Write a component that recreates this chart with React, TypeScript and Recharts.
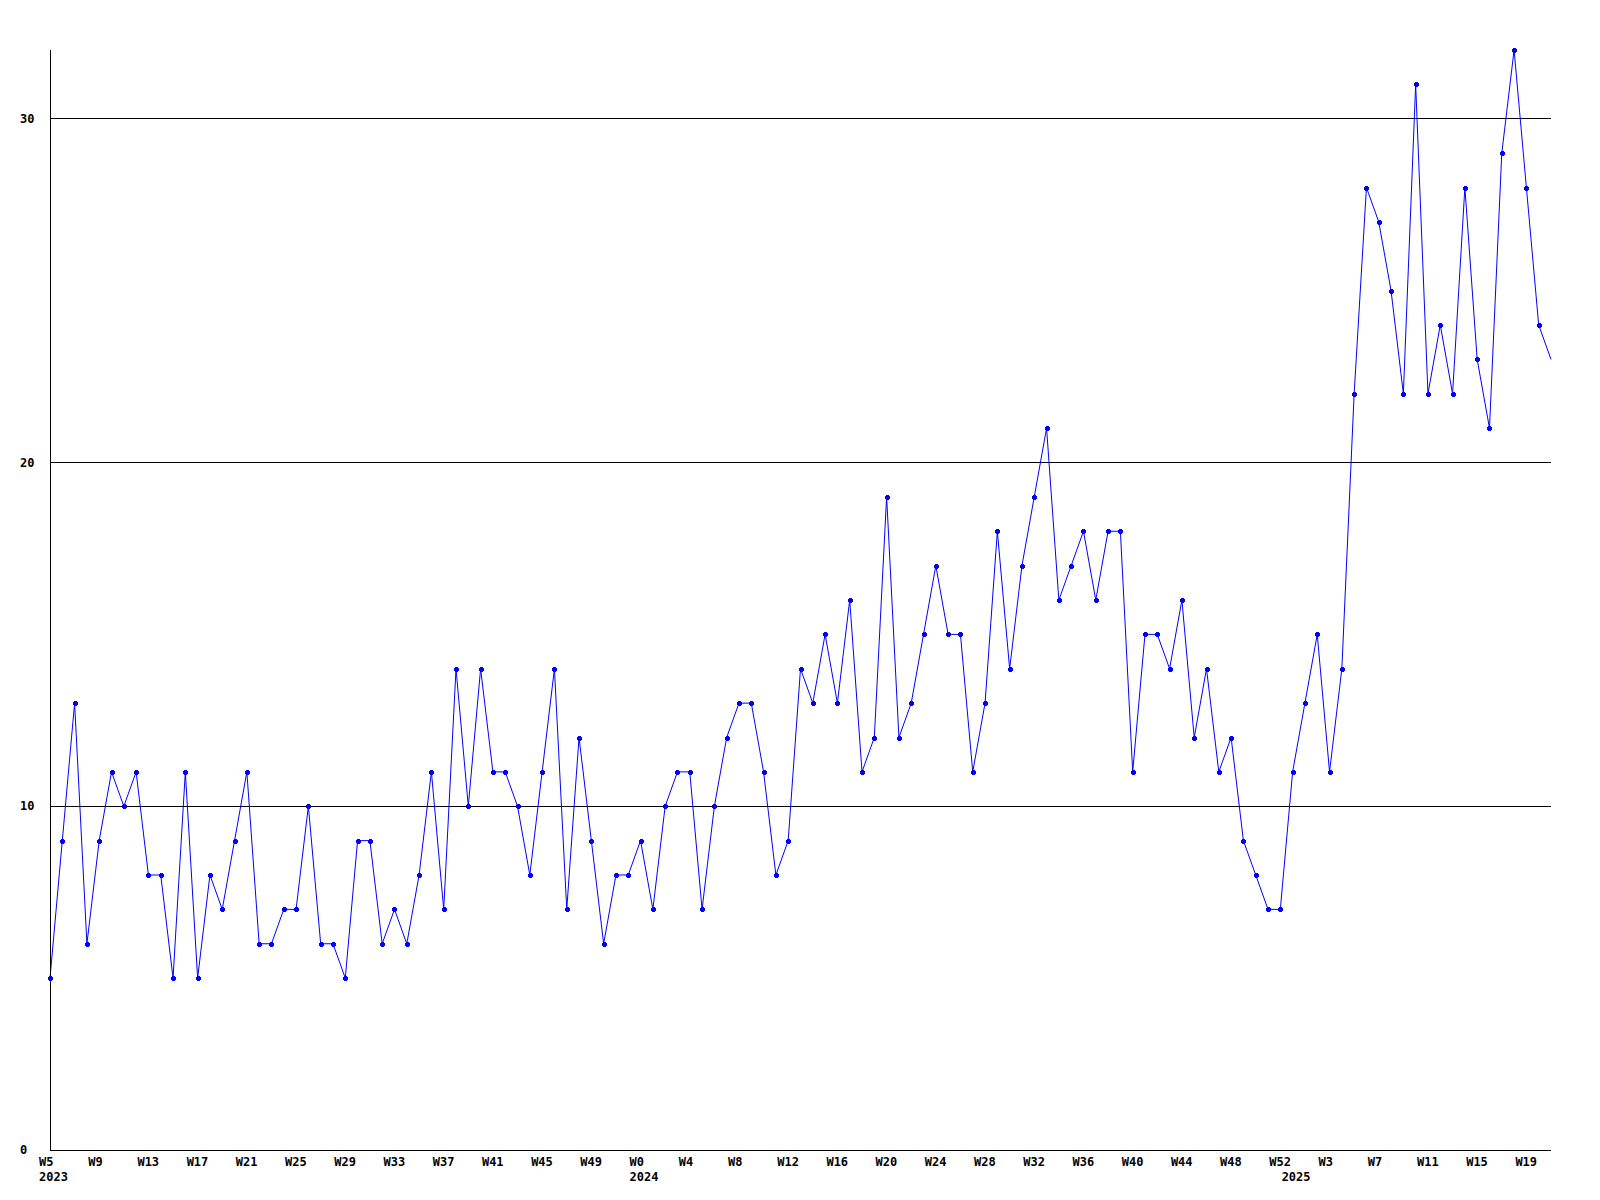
import React from "react";
import { LineChart, Line, XAxis, YAxis, CartesianGrid } from "recharts";

// weekly counts, one array per year
const years = [2023, 2024, 2025];
const firstWeek = [5, 0, 0];
const counts2023 = [
  5, 9, 13, 6, 9, 11, 10, 11, 8, 8, 5, 11, 5, 8, 7, 9, 11, 6, 6, 7, 7, 10, 6, 6, 5, 9, 9, 6, 7, 6, 8, 11,
  7, 14, 10, 14, 11, 11, 10, 8, 11, 14, 7, 12, 9, 6, 8, 8,
];
const counts2024 = [
  9, 7, 10, 11, 11, 7, 10, 12, 13, 13, 11, 8, 9, 14, 13, 15, 13, 16, 11, 12, 19, 12, 13, 15, 17, 15, 15,
  11, 13, 18, 14, 17, 19, 21, 16, 17, 18, 16, 18, 18, 11, 15, 15, 14, 16, 12, 14, 11, 12, 9, 8, 7, 7,
];
const counts2025 = [11, 13, 15, 11, 14, 22, 28, 27, 25, 22, 31, 22, 24, 22, 28, 23, 21, 29, 32, 28, 24, 23];
const yTicks = [0, 10, 20, 30];

const perYear = [counts2023, counts2024, counts2025];
const data: { i: number; count: number; week: string; year: string }[] = [];
perYear.forEach((arr, y) => {
  arr.forEach((count, k) => {
    data.push({
      i: data.length,
      count,
      week: `W${firstWeek[y] + k}`,
      year: k === 0 ? String(years[y]) : "",
    });
  });
});
const lastIndex = data.length - 1;
const xTicks = data.filter((d) => d.i % 4 === 0).map((d) => d.i);
const yearIdx = data.filter((d) => d.year !== "").map((d) => d.i);
const allTicks = Array.from(new Set([...xTicks, ...yearIdx])).sort((a, b) => a - b);

const FONT = "'DejaVu Sans Mono', monospace";

const XTick = (props: any) => {
  const { x, payload } = props;
  const d = data[payload.value];
  if (!d) return null;
  return (
    <g>
      {payload.value % 4 === 0 && (
        <text x={x - 11} y={1162} fontFamily={FONT} fontSize={12} fontWeight="bold" fill="#000" dominantBaseline="central">
          {d.week}
        </text>
      )}
      {d.year && (
        <text x={x - 11} y={1177} fontFamily={FONT} fontSize={12} fontWeight="bold" fill="#000" dominantBaseline="central">
          {d.year}
        </text>
      )}
    </g>
  );
};

const YTick = (props: any) => {
  const { y, payload } = props;
  return (
    <text x={20} y={y} fontFamily={FONT} fontSize={12} fontWeight="bold" fill="#000" dominantBaseline="central">
      {payload.value}
    </text>
  );
};

const Marker = (props: any) => {
  const { cx, cy, index } = props;
  if (index === lastIndex || cx == null) return <g key={`m-${index}`} />;
  const x = Math.round(cx);
  const y = Math.round(cy);
  return (
    <g key={`m-${index}`} fill="#0000ff" shapeRendering="crispEdges">
      <rect x={x - 2} y={y - 1} width={5} height={3} />
      <rect x={x - 1} y={y - 2} width={3} height={5} />
    </g>
  );
};

export default function App() {
  return (
    <div style={{ position: "absolute", left: 0, top: 0, width: 1600, height: 1200, background: "#fff" }}>
      <style>{`.recharts-cartesian-grid line, .recharts-cartesian-axis-line { shape-rendering: crispEdges; }`}</style>
      <LineChart width={1600} height={1200} data={data} margin={{ top: 50, right: 49, bottom: 0, left: 0 }}>
        <CartesianGrid vertical={false} horizontalValues={[10, 20, 30]} stroke="#000" strokeWidth={1} />
        <XAxis
          dataKey="i"
          type="number"
          domain={[0, lastIndex]}
          ticks={allTicks}
          interval={0}
          height={50}
          tickLine={false}
          axisLine={{ stroke: "#000" }}
          tick={<XTick />}
        />
        <YAxis
          type="number"
          domain={[0, 32]}
          ticks={yTicks}
          interval={0}
          width={50}
          tickLine={false}
          axisLine={{ stroke: "#000" }}
          tick={<YTick />}
        />
        <Line
          type="linear"
          dataKey="count"
          stroke="#0000ff"
          strokeWidth={1}
          dot={<Marker />}
          activeDot={false}
          isAnimationActive={false}
        />
      </LineChart>
    </div>
  );
}
